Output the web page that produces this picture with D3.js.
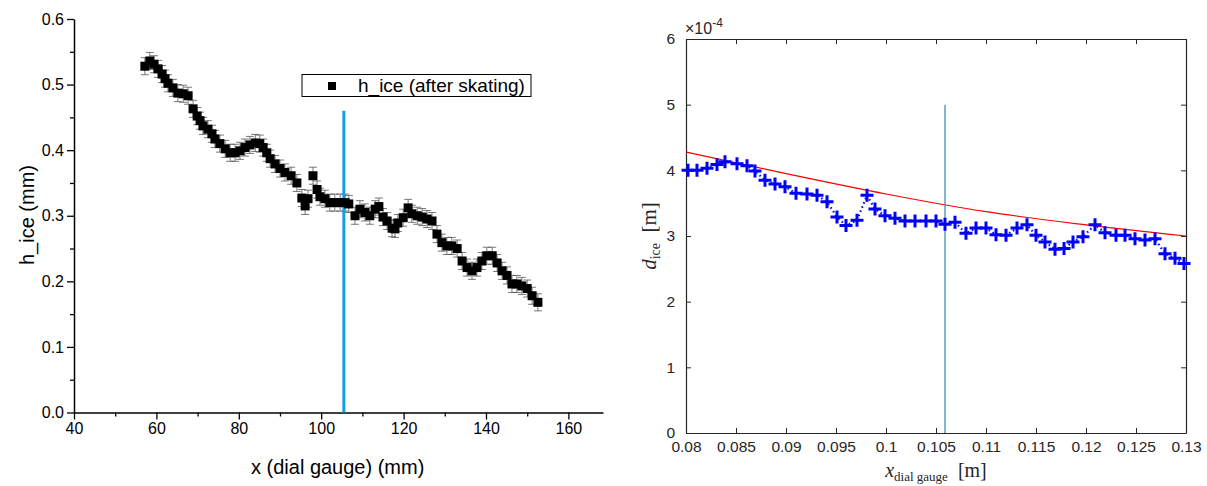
<!DOCTYPE html>
<html>
<head>
<meta charset="utf-8">
<script src="https://cdn.jsdelivr.net/npm/d3@7"></script>
<style>
body { margin: 0; background: #fff; }
text { font-family: "Liberation Sans", Arial, sans-serif; }
</style>
</head>
<body>
<svg id="fig" width="1207" height="486"></svg>
<script>
// ---- left panel: h_ice vs dial gauge position (mm) ----
var hX = [57.2, 58.4, 59.4, 60.4, 61.4, 62.1, 62.8, 64.0, 65.2, 66.5, 67.7, 68.9, 69.9, 70.6, 71.3,
  72.5, 73.5, 74.2, 75.4, 76.7, 77.9, 79.1, 80.3, 81.5, 82.7, 84.0, 85.1, 85.9, 86.8, 87.6, 88.8,
  90.0, 91.2, 92.7, 94.1, 95.3, 96.1, 96.8, 98.0, 99.0, 99.7, 100.9, 102.1, 103.3, 104.6, 105.8,
  106.7, 108.2, 109.4, 110.6, 111.8, 113.1, 114.0, 115.0, 116.0, 117.2, 117.9, 118.6, 119.9,
  121.1, 122.0, 123.3, 124.5, 125.7, 126.9, 128.1, 129.3, 130.5, 131.7, 133.0, 134.2, 135.4,
  136.6, 137.8, 139.0, 140.2, 141.5, 142.7, 143.9, 145.1, 146.3, 147.5, 148.7, 150.0, 151.2, 152.6];
var hY = [0.528, 0.536, 0.531, 0.524, 0.516, 0.509, 0.502, 0.495, 0.487, 0.486, 0.483, 0.463, 0.452, 0.445, 0.437,
  0.432, 0.425, 0.417, 0.410, 0.402, 0.396, 0.396, 0.399, 0.404, 0.408, 0.411, 0.410, 0.404, 0.396, 0.387, 0.379,
  0.372, 0.366, 0.361, 0.350, 0.327, 0.315, 0.326, 0.361, 0.340, 0.329, 0.326, 0.320, 0.320, 0.320, 0.320,
  0.318, 0.300, 0.310, 0.305, 0.300, 0.310, 0.314, 0.298, 0.292, 0.281, 0.280, 0.289, 0.297,
  0.312, 0.303, 0.300, 0.298, 0.295, 0.292, 0.272, 0.259, 0.254, 0.254, 0.250, 0.231, 0.221,
  0.216, 0.221, 0.231, 0.239, 0.239, 0.228, 0.216, 0.209, 0.196, 0.196, 0.193, 0.189, 0.178, 0.168];
var hErr = 0.013;
var hCut = 105.5;
var hCutTop = 0.46;
var hXTicks = [40, 60, 80, 100, 120, 140, 160];
var hYTicks = [0, 0.1, 0.2, 0.3, 0.4, 0.5, 0.6];
var legendLabel = "h_ice (after skating)";

// ---- right panel: d_ice vs x (m), y values in units of 1e-4 m ----
var dX = [0.0802, 0.0811, 0.0821, 0.0831, 0.0839, 0.0851, 0.0861, 0.0869, 0.0879, 0.0889, 0.0899,
  0.0910, 0.0921, 0.0931, 0.0941, 0.0951, 0.0960, 0.0971, 0.0981, 0.0989, 0.0999, 0.1009, 0.1019,
  0.1029, 0.1040, 0.1050, 0.1059, 0.1069, 0.1080, 0.1090, 0.1100, 0.1110, 0.1120, 0.1131, 0.1141,
  0.1150, 0.1159, 0.1169, 0.1178, 0.1187, 0.1197, 0.1209, 0.1219, 0.1230, 0.1239, 0.1249, 0.1259,
  0.1269, 0.1279, 0.1289, 0.1298];
var dY = [4.00, 4.00, 4.03, 4.09, 4.13, 4.10, 4.07, 3.99, 3.85, 3.79, 3.75,
  3.65, 3.64, 3.62, 3.52, 3.29, 3.16, 3.24, 3.62, 3.41, 3.31, 3.27, 3.23,
  3.23, 3.23, 3.23, 3.18, 3.21, 3.04, 3.12, 3.12, 3.02, 3.01, 3.12, 3.17,
  3.01, 2.91, 2.80, 2.81, 2.91, 2.99, 3.17, 3.05, 3.01, 3.01, 2.96, 2.94,
  2.96, 2.73, 2.66, 2.58];
var fitX = [0.08, 0.09, 0.10, 0.11, 0.12, 0.13];
var fitY = [4.28, 3.95, 3.64, 3.37, 3.17, 3.00];
var dCut = 0.1059;
var dCutTop = 5;
var dXTicks = [0.08, 0.085, 0.09, 0.095, 0.1, 0.105, 0.11, 0.115, 0.12, 0.125, 0.13];
var dYTicks = [0, 1, 2, 3, 4, 5, 6];

var svg = d3.select("#fig");

// ================= left panel =================
var x1 = d3.scaleLinear().domain([40, 168.4]).range([74, 603]);
var y1 = d3.scaleLinear().domain([0, 0.6]).range([412.5, 19]);

var left = svg.append("g");

// minor ticks
left.append("g")
    .attr("transform", "translate(0,412.5)")
    .call(d3.axisBottom(x1).tickValues(d3.range(50, 170, 20)).tickSize(4).tickFormat(""))
    .call(function (g) { g.select(".domain").remove(); });
left.append("g")
    .attr("transform", "translate(74,0)")
    .call(d3.axisLeft(y1).tickValues([0.05, 0.15, 0.25, 0.35, 0.45, 0.55]).tickSize(4).tickFormat(""))
    .call(function (g) { g.select(".domain").remove(); });

var lx = left.append("g")
    .attr("transform", "translate(0,412.5)")
    .call(d3.axisBottom(x1).tickValues(hXTicks).tickSize(7).tickSizeOuter(0).tickPadding(3));
lx.selectAll("text").attr("font-size", 16).attr("fill", "#000");

var ly = left.append("g")
    .attr("transform", "translate(74,0)")
    .call(d3.axisLeft(y1).tickValues(hYTicks).tickSize(7).tickSizeOuter(0).tickPadding(3)
        .tickFormat(d3.format(".1f")));
ly.selectAll("text").attr("font-size", 16).attr("fill", "#000");

left.selectAll(".domain").attr("stroke-width", 1.5);
left.selectAll(".tick line").attr("stroke-width", 1.3);

left.append("text")
    .attr("transform", "translate(34,215) rotate(-90)")
    .attr("text-anchor", "middle")
    .attr("font-size", 20)
    .text("h_ice (mm)");

left.append("text")
    .attr("x", x1(104)).attr("y", 474)
    .attr("text-anchor", "middle")
    .attr("font-size", 20)
    .text("x (dial gauge) (mm)");

// error bars
var hData = hX.map(function (v, i) { return { x: v, y: hY[i] }; });
var eb = left.append("g").attr("stroke", "#555").attr("stroke-width", 0.8).attr("fill", "none");
eb.selectAll("path")
    .data(hData)
    .enter().append("path")
    .attr("d", function (d) {
        var cx = x1(d.x), t = y1(d.y + hErr), b = y1(d.y - hErr);
        return "M" + cx + "," + t + "V" + b +
            "M" + (cx - 4) + "," + t + "H" + (cx + 4) +
            "M" + (cx - 4) + "," + b + "H" + (cx + 4);
    });

left.append("line")
    .attr("x1", x1(hCut)).attr("x2", x1(hCut))
    .attr("y1", y1(0)).attr("y2", y1(hCutTop))
    .attr("stroke", "#14a0e0")
    .attr("stroke-width", 3);

left.append("g").selectAll("rect")
    .data(hData)
    .enter().append("rect")
    .attr("x", function (d) { return x1(d.x) - 4.5; })
    .attr("y", function (d) { return y1(d.y) - 4.5; })
    .attr("width", 9).attr("height", 9)
    .attr("fill", "#000");

// legend
var lg = left.append("g");
lg.append("rect")
    .attr("x", 302).attr("y", 74.5).attr("width", 229).attr("height", 22)
    .attr("fill", "#fff").attr("stroke", "#000").attr("stroke-width", 1);
lg.append("rect")
    .attr("x", 328).attr("y", 82).attr("width", 8).attr("height", 8)
    .attr("fill", "#000");
lg.append("text")
    .attr("x", 358).attr("y", 92)
    .attr("font-size", 19)
    .text(legendLabel);

// ================= right panel =================
var x2 = d3.scaleLinear().domain([0.08, 0.13]).range([686, 1186]);
var y2 = d3.scaleLinear().domain([0, 6]).range([433, 39]);

var right = svg.append("g");
var axCol = "#262626";
var serif = "'Liberation Serif', 'DejaVu Serif', serif";

var rb = right.append("g")
    .attr("transform", "translate(0,433)")
    .call(d3.axisBottom(x2).tickValues(dXTicks).tickSize(-5).tickSizeOuter(0).tickPadding(8)
        .tickFormat(d3.format("~g")));
var rt = right.append("g")
    .attr("transform", "translate(0,39)")
    .call(d3.axisTop(x2).tickValues(dXTicks).tickSize(-5).tickSizeOuter(0).tickFormat(""));
var rl = right.append("g")
    .attr("transform", "translate(686,0)")
    .call(d3.axisLeft(y2).tickValues(dYTicks).tickSize(-5).tickSizeOuter(0).tickPadding(11)
        .tickFormat(d3.format("d")));
var rr = right.append("g")
    .attr("transform", "translate(1186,0)")
    .call(d3.axisRight(y2).tickValues(dYTicks).tickSize(-5).tickSizeOuter(0).tickFormat(""));

right.selectAll(".domain").attr("stroke", axCol).attr("stroke-width", 1.2);
right.selectAll(".tick line").attr("stroke", axCol).attr("stroke-width", 1);
right.selectAll(".tick text").attr("font-size", 15.5).attr("fill", axCol);

var mult = right.append("text")
    .attr("x", 685).attr("y", 34)
    .attr("font-size", 16)
    .attr("fill", axCol);
mult.append("tspan").text("\u00d710");
mult.append("tspan").attr("dy", -7).attr("font-size", 12).text("-4");

var ylab = right.append("text")
    .attr("transform", "translate(656,236) rotate(-90)")
    .attr("text-anchor", "middle")
    .style("font-family", serif)
    .attr("font-size", 21)
    .attr("fill", axCol);
ylab.append("tspan").attr("font-style", "italic").text("d");
ylab.append("tspan").attr("dy", 4).attr("font-size", 14).text("ice");
ylab.append("tspan").attr("dy", -4).text("\u2002[m]");

var xlab = right.append("text")
    .attr("x", 936).attr("y", 477)
    .attr("text-anchor", "middle")
    .style("font-family", serif)
    .attr("font-size", 20)
    .attr("fill", axCol);
xlab.append("tspan").attr("font-style", "italic").text("x");
xlab.append("tspan").attr("dy", 4).attr("font-size", 13).text("dial gauge");
xlab.append("tspan").attr("dy", -4).text("\u2002[m]");

// fitted curve
var fitData = fitX.map(function (v, i) { return { x: v, y: fitY[i] }; });
right.append("path")
    .datum(fitData)
    .attr("fill", "none")
    .attr("stroke", "#ff0000")
    .attr("stroke-width", 1.2)
    .attr("d", d3.line().curve(d3.curveMonotoneX)
        .x(function (d) { return x2(d.x); })
        .y(function (d) { return y2(d.y); }));

right.append("line")
    .attr("x1", x2(dCut)).attr("x2", x2(dCut))
    .attr("y1", y2(0)).attr("y2", y2(dCutTop))
    .attr("stroke", "#2a86c2")
    .attr("stroke-width", 1.2);

var dData = dX.map(function (v, i) { return { x: v, y: dY[i] }; });
right.append("path")
    .datum(dData)
    .attr("fill", "none")
    .attr("stroke", "#0000ff")
    .attr("stroke-width", 2.2)
    .attr("stroke-dasharray", "1.5,3")
    .attr("d", d3.line()
        .x(function (d) { return x2(d.x); })
        .y(function (d) { return y2(d.y); }));

right.append("g").selectAll("path")
    .data(dData)
    .enter().append("path")
    .attr("transform", function (d) { return "translate(" + x2(d.x) + "," + y2(d.y) + ")"; })
    .attr("d", "M-6.5,0H6.5M0,-6.5V6.5")
    .attr("stroke", "#0000ff")
    .attr("stroke-width", 3)
    .attr("fill", "none");
</script>
</body>
</html>
